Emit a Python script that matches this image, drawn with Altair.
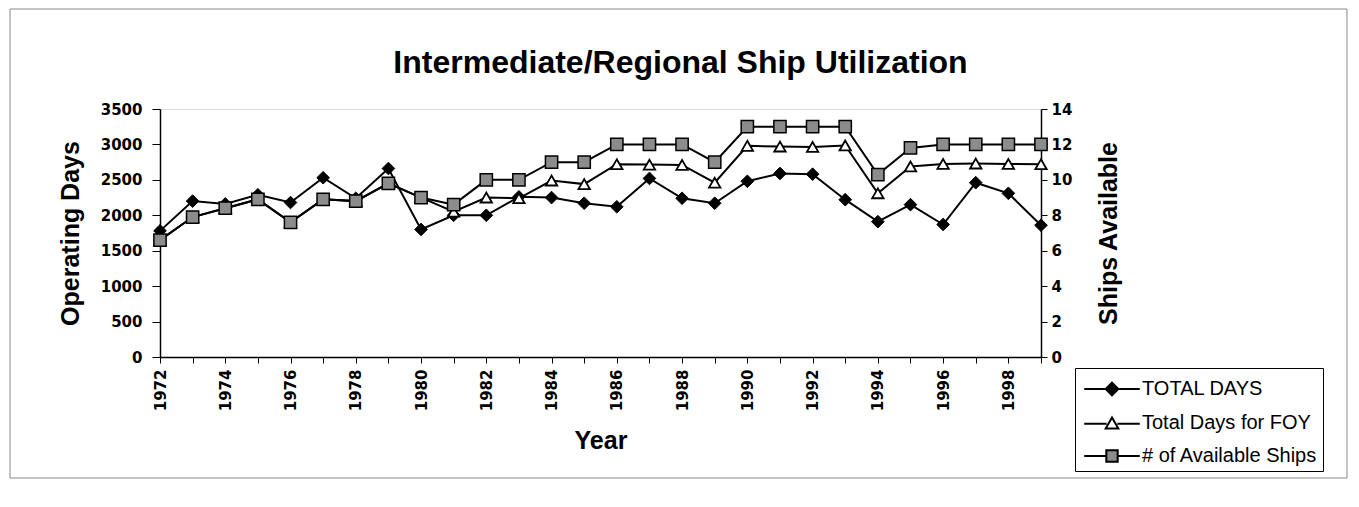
import altair as alt
import pandas as pd

# ---------------- data ----------------
years = list(range(1972, 2000))
total_days = [1780, 2200, 2160, 2290, 2180, 2530, 2240, 2660, 1800, 2000,
              2000, 2260, 2250, 2170, 2120, 2520, 2240, 2170, 2480, 2590,
              2580, 2220, 1910, 2150, 1870, 2460, 2310, 1860]
foy_days = [1650, 1975, 2100, 2225, 1900, 2225, 2200, 2450, 2250, 2050,
            2250, 2240, 2490, 2440, 2720, 2715, 2710, 2460, 2980, 2970,
            2965, 2985, 2310, 2690, 2725, 2730, 2725, 2720]
ships = [6.6, 7.9, 8.4, 8.9, 7.6, 8.9, 8.8, 9.8, 9.0, 8.6,
         10, 10, 11, 11, 12, 12, 12, 11, 13, 13,
         13, 13, 10.3, 11.8, 12, 12, 12, 12]
series_names = ["TOTAL DAYS", "Total Days for FOY", "# of Available Ships"]
left_ticks = [0, 500, 1000, 1500, 2000, 2500, 3000, 3500]
right_ticks = [0, 2, 4, 6, 8, 10, 12, 14]

days_df = pd.DataFrame({
    "Year": years * 2,
    "Days": total_days + foy_days,
    "Series": [series_names[0]] * len(years) + [series_names[1]] * len(years),
})
ships_df = pd.DataFrame({"Year": years, "Ships": ships, "Series": series_names[2]})
legend_df = pd.DataFrame({"Legend": series_names})

TICK_FONT = "DejaVu Sans"
TITLE_FONT = "Liberation Sans"

x_enc = alt.X(
    "Year:Q",
    scale=alt.Scale(domain=[1972, 1999], nice=False, zero=False),
    axis=alt.Axis(
        values=years, format="d",
        labelExpr="datum.value % 2 == 0 ? datum.label : ''",
        labelAngle=-90, labelFont=TICK_FONT, labelFontWeight="bold",
        labelFontSize=15, labelColor="black", labelPadding=6,
        tickSize=6, tickColor="black", domainColor="black", domainWidth=1.5,
        grid=False, title="Year", titleFont=TITLE_FONT, titleFontSize=25,
        titleFontWeight="bold", titleColor="black", titlePadding=18,
    ),
)

y_days = alt.Y(
    "Days:Q",
    scale=alt.Scale(domain=[0, 3500], nice=False),
    axis=alt.Axis(
        values=left_ticks, format="d", labelFont=TICK_FONT, labelFontWeight="bold",
        labelFontSize=15, labelColor="black", labelPadding=10,
        tickSize=8, tickColor="black", domainColor="black", domainWidth=1.5,
        grid=False, title="Operating Days", titleFont=TITLE_FONT,
        titleFontSize=25, titleFontWeight="bold", titleColor="black",
        titlePadding=17,
    ),
)

y_ships = alt.Y(
    "Ships:Q",
    scale=alt.Scale(domain=[0, 14], nice=False),
    axis=alt.Axis(
        orient="right", values=right_ticks, format="d", labelFont=TICK_FONT,
        labelFontWeight="bold", labelFontSize=15, labelColor="black",
        labelPadding=4, tickSize=6, tickColor="black", domainColor="black",
        domainWidth=1.5, grid=False, title="Ships Available",
        titleFont=TITLE_FONT, titleFontSize=25, titleFontWeight="bold",
        titleColor="black", titlePadding=50, titleAngle=270,
    ),
)

days_base = alt.Chart(days_df)
days_lines = days_base.mark_line(color="black", strokeWidth=2).encode(
    x=x_enc, y=y_days, detail="Series:N"
)
total_pts = days_base.transform_filter(
    alt.datum.Series == series_names[0]
).mark_point(shape="diamond", filled=True, fill="black", stroke="black",
             strokeWidth=1, size=160, opacity=1).encode(x=x_enc, y=y_days)
foy_pts = days_base.transform_filter(
    alt.datum.Series == series_names[1]
).mark_point(shape="triangle-up", filled=True, fill="white", stroke="black",
             strokeWidth=1.8, size=130, opacity=1).encode(x=x_enc, y=y_days)

ships_base = alt.Chart(ships_df)
ships_line = ships_base.mark_line(color="black", strokeWidth=2).encode(
    x=x_enc, y=y_ships
)
ships_pts = ships_base.mark_point(
    shape="square", filled=True, fill="#8c8c8c", stroke="black",
    strokeWidth=1.5, size=150, opacity=1
).encode(x=x_enc, y=y_ships)

# legend symbols: line - marker - line
paths = [
    "M-1.85,0H-0.42M0.42,0H1.85M0,-0.42L0.42,0L0,0.42L-0.42,0Z",
    "M-1.85,0.05H-0.36M0.36,0.05H1.85M0,-0.36L0.42,0.36L-0.42,0.36Z",
    "M-1.85,0H-0.38M0.38,0H1.85M-0.38,-0.38H0.38V0.38H-0.38Z",
]
leg = alt.Legend(
    title=None, orient="none", legendX=915, legendY=259,
    labelFont=TITLE_FONT, labelFontSize=20, labelColor="black", labelLimit=400,
    symbolSize=900, symbolStrokeColor="black", symbolStrokeWidth=2,
    symbolOffset=16, labelOffset=14, rowPadding=7, padding=5,
    strokeColor="black", fillColor="white", cornerRadius=0,
)
legend_layer = alt.Chart(legend_df).transform_filter("false").mark_point(
    filled=True, stroke="black", strokeWidth=2, opacity=1
).encode(
    shape=alt.Shape("Legend:N", scale=alt.Scale(domain=series_names, range=paths), legend=leg),
    fill=alt.Fill("Legend:N", scale=alt.Scale(domain=series_names, range=["black", "white", "#8c8c8c"]), legend=leg),
    stroke=alt.Stroke("Legend:N", scale=alt.Scale(domain=series_names, range=["black", "black", "black"]), legend=leg),
)

frame = alt.Chart(pd.DataFrame({"a": [0]})).mark_rect(
    fill=None, stroke="#888888", strokeWidth=1
).encode(x=alt.value(-150), x2=alt.value(1187), y=alt.value(-100), y2=alt.value(369))

days_layer = alt.layer(days_lines, total_pts, foy_pts)
ships_layer = alt.layer(ships_line, ships_pts)

chart = alt.layer(frame, days_layer, ships_layer, legend_layer).resolve_scale(
    y="independent"
).properties(
    width=881, height=248,
    title=alt.TitleParams(
        "Intermediate/Regional Ship Utilization", font=TITLE_FONT,
        fontSize=32, fontWeight="bold", color="black", anchor="middle",
        dx=80, offset=-96, baseline="alphabetic",
    ),
    autosize=alt.AutoSizeParams(type="none"),
    padding={"left": 152, "top": 101, "right": 309, "bottom": 142},
).configure_view(
    fill="#c3c3c3", stroke="black", strokeWidth=1.5
).configure(background="white")

chart.save("out.html", embed_options={"renderer": "svg", "actions": False})
